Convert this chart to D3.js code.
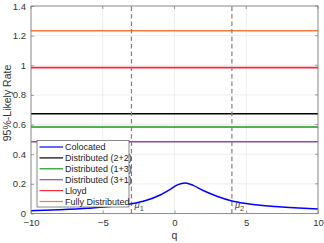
<!DOCTYPE html>
<html>
<head>
<meta charset="utf-8">
<script src="https://cdn.jsdelivr.net/npm/d3@7"></script>
<style>
  body { margin: 0; background: #fff; }
  svg { font-family: "Liberation Sans", Arial, sans-serif; }
</style>
</head>
<body>
<svg id="chart" width="324" height="243"></svg>
<script>
// constant rates (flat lines)
var seriesNames = ["Colocated", "Distributed (2+2)", "Distributed (1+3)", "Distributed (3+1)", "Lloyd", "Fully Distributed"];
var seriesColors = ["#0000ff", "#000000", "#1a961a", "#9e44ae", "#f52a35", "#f07a3a"];
var flatValues = [null, 0.673, 0.584, 0.484, 0.984, 1.233];

// colocated curve vs q
var qValues = [-10, -8, -6, -4, -3, -2, -1, -0.3, 0.2, 0.75, 1.3, 2, 3, 4, 5, 6, 7, 8, 9, 10];
var colocated = [0.019, 0.026, 0.036, 0.052, 0.066, 0.088, 0.125, 0.163, 0.193, 0.206, 0.19, 0.155, 0.115, 0.085, 0.068, 0.056, 0.048, 0.041, 0.035, 0.03];

var xTicks = [-10, -5, 0, 5, 10];
var yTicks = [0, 0.2, 0.4, 0.6, 0.8, 1, 1.2, 1.4];
var muLines = [{q: -3, label: "1"}, {q: 4, label: "2"}];

var svg = d3.select("#chart");
var m = {left: 31, right: 6, top: 6, bottom: 29.5};
var W = 324, H = 243;

var x = d3.scaleLinear().domain([-10, 10]).range([m.left, W - m.right]);
var y = d3.scaleLinear().domain([0, 1.4]).range([H - m.bottom, m.top]);

// grid
svg.append("g").selectAll("line").data(xTicks).join("line")
  .attr("x1", d => x(d)).attr("x2", d => x(d))
  .attr("y1", y(0)).attr("y2", y(1.4))
  .attr("stroke", "#e6e6e6").attr("stroke-width", 0.7);
svg.append("g").selectAll("line").data(yTicks).join("line")
  .attr("x1", x(-10)).attr("x2", x(10))
  .attr("y1", d => y(d)).attr("y2", d => y(d))
  .attr("stroke", "#e6e6e6").attr("stroke-width", 0.7);

// flat lines
flatValues.forEach(function(v, i) {
  if (v == null) return;
  svg.append("line")
    .attr("x1", x(-10)).attr("x2", x(10))
    .attr("y1", y(v)).attr("y2", y(v))
    .attr("stroke", seriesColors[i]).attr("stroke-width", 1.6);
});

// mu lines
muLines.forEach(function(d) {
  svg.append("line")
    .attr("x1", x(d.q)).attr("x2", x(d.q))
    .attr("y1", y(0)).attr("y2", y(1.4))
    .attr("stroke", "#808080").attr("stroke-width", 1.2)
    .attr("stroke-dasharray", "4.5,3");
  var t = svg.append("text")
    .attr("x", x(d.q) + 3).attr("y", y(0) - 6)
    .attr("font-size", 9.5).attr("fill", "#444")
    .attr("font-style", "italic");
  t.append("tspan").text("\u03bc");
  t.append("tspan").attr("font-size", 7.5).attr("dy", 3).attr("font-style", "normal").text(d.label);
});

// colocated curve
var line = d3.line().x((d, i) => x(qValues[i])).y(d => y(d)).curve(d3.curveMonotoneX);
svg.append("path").datum(colocated)
  .attr("d", line).attr("fill", "none")
  .attr("stroke", seriesColors[0]).attr("stroke-width", 1.5);

// axes
var xAxis = d3.axisBottom(x).tickValues(xTicks).tickSize(-3).tickPadding(6).tickFormat(d3.format("d"));
var yAxis = d3.axisLeft(y).tickValues(yTicks).tickSize(-3).tickPadding(5).tickFormat(d => d === 0 ? "0" : d3.format("~g")(d));
var gx = svg.append("g").attr("transform", "translate(0," + y(0) + ")").call(xAxis);
var gy = svg.append("g").attr("transform", "translate(" + x(-10) + ",0)").call(yAxis);
[gx, gy].forEach(function(g) {
  g.select(".domain").remove();
  g.selectAll(".tick line").attr("stroke", "#666").attr("stroke-width", 0.6);
  g.selectAll(".tick text").attr("font-size", 9.5).attr("fill", "#333")
    .attr("font-family", "'Liberation Sans', Arial, sans-serif");
});
// right / top tick marks
svg.append("g").selectAll("line").data(yTicks).join("line")
  .attr("x1", x(10)).attr("x2", x(10) - 3)
  .attr("y1", d => y(d)).attr("y2", d => y(d))
  .attr("stroke", "#666").attr("stroke-width", 0.6);
svg.append("g").selectAll("line").data(xTicks).join("line")
  .attr("x1", d => x(d)).attr("x2", d => x(d))
  .attr("y1", y(1.4)).attr("y2", y(1.4) + 3)
  .attr("stroke", "#666").attr("stroke-width", 0.6);

// box
svg.append("rect")
  .attr("x", x(-10)).attr("y", y(1.4))
  .attr("width", x(10) - x(-10)).attr("height", y(0) - y(1.4))
  .attr("fill", "none").attr("stroke", "#777").attr("stroke-width", 0.8);

// labels
svg.append("text").attr("x", x(0)).attr("y", 239)
  .attr("text-anchor", "middle").attr("font-size", 10.5).attr("fill", "#333").text("q");
svg.append("text")
  .attr("transform", "translate(11," + 103 + ") rotate(-90)")
  .attr("text-anchor", "middle").attr("font-size", 10.5).attr("fill", "#333").text("95%-Likely Rate");

// legend
var lg = svg.append("g").attr("transform", "translate(37,140.5)");
lg.append("rect").attr("width", 92).attr("height", 66.5)
  .attr("fill", "#fff").attr("stroke", "#555").attr("stroke-width", 0.7);
seriesNames.forEach(function(name, i) {
  var yy = 6.5 + i * 10.9;
  lg.append("line").attr("x1", 2.5).attr("x2", 26).attr("y1", yy).attr("y2", yy)
    .attr("stroke", seriesColors[i]).attr("stroke-width", 1.2);
  lg.append("text").attr("x", 28).attr("y", yy + 3.3).attr("font-size", 9)
    .attr("fill", "#222").text(name);
});
</script>
</body>
</html>
